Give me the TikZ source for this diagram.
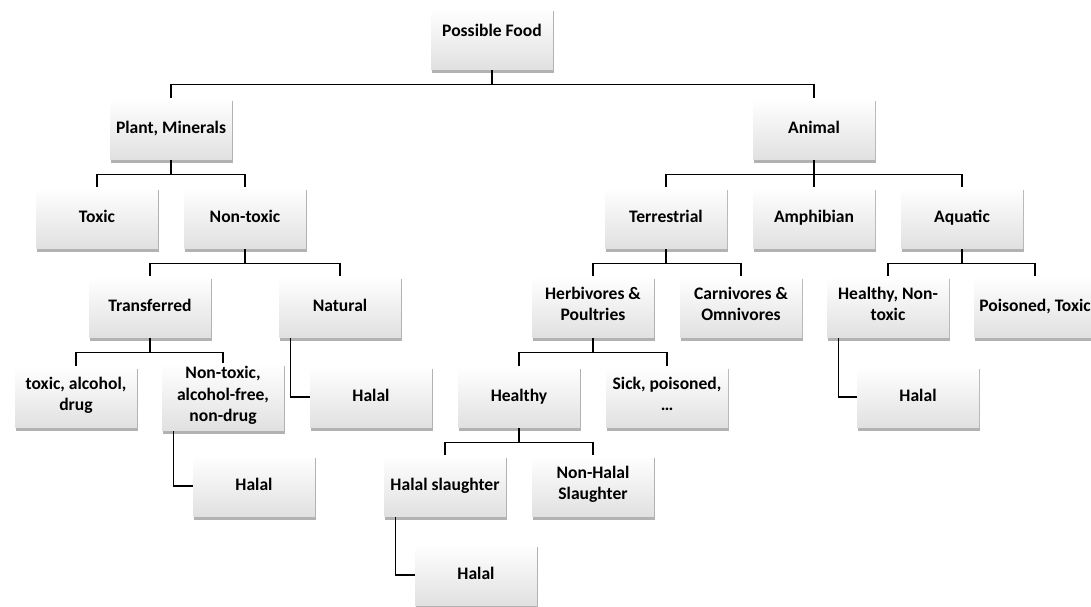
\documentclass[tikz,border=0pt]{standalone}
\usepackage{fontspec}
\setmainfont{Carlito}
\usepackage{tikz}
\usetikzlibrary{shadows, calc}

\tikzset{
  box/.style={minimum width=2.44cm, minimum height=1.24cm, inner sep=2pt,
    align=center, font=\bfseries, top color=white, bottom color=black!12,
    execute at begin node=\strut, execute at end node=\strut,
    drop shadow={shadow xshift=0.6pt, shadow yshift=-1.8pt, opacity=0.3, fill=black}},
  conn/.style={line width=0.9pt},
}

\begin{document}
\begin{tikzpicture}[x=0.02cm, y=-0.02cm]
  \useasboundingbox (0,0) rectangle (1091,607);

  % top levels
  \node[box] (pf) at (492,39) {\raisebox{6pt}{Possible Food}};
  \node[box] (plant) at (171,129) {Plant, Minerals};
  \node[box] (animal) at (814,129) {Animal};

  % plant side
  \node[box] (toxic) at (97,218) {Toxic};
  \node[box] (nontoxic) at (245,218) {Non-toxic};
  \node[box] (transf) at (150,307) {Transferred};
  \node[box] (natural) at (340,307) {Natural};
  \node[box] (tad) at (76,397) {toxic, alcohol,\\drug};
  \node[box] (ntaf) at (223,397) {Non-toxic,\\alcohol-free,\\non-drug};
  \node[box] (halalA) at (371,397) {Halal};
  \node[box] (halalB) at (254,486) {Halal};

  % animal side
  \node[box] (terr) at (666,218) {Terrestrial};
  \node[box] (amph) at (814,218) {Amphibian};
  \node[box] (aqua) at (962,218) {Aquatic};
  \node[box] (herb) at (593,307) {Herbivores \&\\Poultries};
  \node[box] (carn) at (741,307) {Carnivores \&\\Omnivores};
  \node[box] (hnt) at (888,307) {Healthy, Non-\\toxic};
  \node[box] (pois) at (1035,307) {Poisoned, Toxic};
  \node[box] (healthy) at (519,397) {Healthy};
  \node[box] (sick) at (667,397) {Sick, poisoned,\\\ldots};
  \node[box] (halalC) at (918,397) {Halal};
  \node[box] (hs) at (445,486) {Halal slaughter};
  \node[box] (nhs) at (593,486) {Non-Halal\\Slaughter};
  \node[box] (halalD) at (476,575) {Halal};

  % tree connectors
  \foreach \p/\a/\b in {pf/plant/animal, plant/toxic/nontoxic, nontoxic/transf/natural,
      transf/tad/ntaf, terr/herb/carn, herb/healthy/sick, healthy/hs/nhs, aqua/hnt/pois}{
    \draw[conn] (\p.south) -- ++(0,14) coordinate (bar);
    \draw[conn] (\a.north) |- (bar) -| (\b.north);
  }
  \draw[conn] (animal.south) -- ++(0,14) coordinate (bar);
  \draw[conn] (terr.north) |- (bar) -| (aqua.north);
  \draw[conn] (bar) -- (amph.north);

  % side connectors
  \foreach \p/\c in {natural/halalA, ntaf/halalB, hnt/halalC, hs/halalD}
    \draw[conn] ($(\p.south west)+(12,0)$) |- (\c.west);
\end{tikzpicture}
\end{document}
